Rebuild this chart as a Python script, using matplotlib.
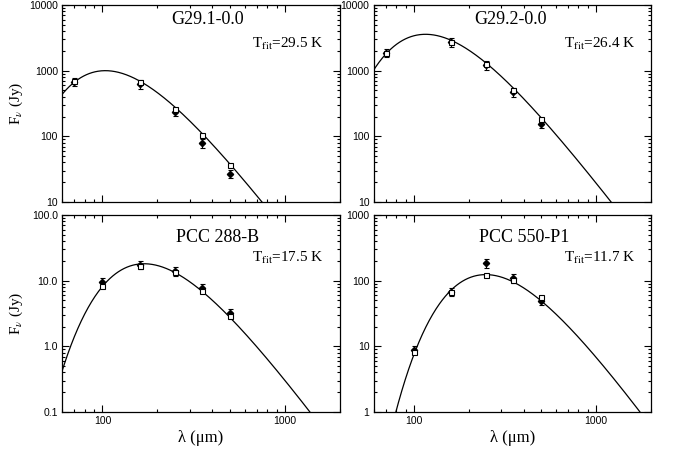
import numpy as np
import matplotlib
matplotlib.use("Agg")
import matplotlib.pyplot as plt
from matplotlib.ticker import LogLocator, FixedFormatter, FixedLocator, NullFormatter

plt.rcParams['mathtext.fontset'] = 'stix'
plt.rcParams['font.family'] = ['Liberation Sans', 'DejaVu Sans']

SERIF = ['Liberation Serif', 'DejaVu Serif']

# Source names and fitted dust temperatures
names = ["G29.1-0.0", "G29.2-0.0", "PCC 288-B", "PCC 550-P1"]
t_fit = [29.5, 26.4, 17.5, 11.7]
beta_fit = [1.75, 1.75, 1.9, 2.0]
peak_flux = [1000.0, 3580.0, 18.1, 123.7]

# Observed wavelengths (micron)
wl_top = [70, 160, 250, 350, 500]
wl_bot = [100, 160, 250, 350, 500]

# Photometry set 1 (diamonds with error bars), Jy
flux_a_g291 = [680, 627, 237, 79, 27]
flux_a_g292 = [1880, 2700, 1220, 468, 156]
flux_a_p288 = [9.66, 17.5, 13.9, 7.8, 3.22]
flux_a_p550 = [8.9, 68, 186, 108, 49.6]
# Photometry set 2 (open squares), Jy
flux_b_g291 = [690, 665, 261, 103.6, 36.6]
flux_b_g292 = [1850, 2760, 1250, 508, 186]
flux_b_p288 = [8.3, 16.9, 13.4, 7.04, 2.93]
flux_b_p550 = [8.1, 66.6, 122, 102, 55.7]
rel_err = 0.15

ylims = [(10, 1e4), (10, 1e4), (0.1, 100), (1, 1000)]
ytick_vals = [[10, 100, 1000, 10000], [10, 100, 1000, 10000],
              [0.1, 1, 10, 100], [1, 10, 100, 1000]]
ytick_labels = [["10", "100", "1000", "10000"], ["10", "100", "1000", "10000"],
                ["0.1", "1.0", "10.0", "100.0"], ["1", "10", "100", "1000"]]

wls = [wl_top, wl_top, wl_bot, wl_bot]
fa = [flux_a_g291, flux_a_g292, flux_a_p288, flux_a_p550]
fb = [flux_b_g291, flux_b_g292, flux_b_p288, flux_b_p550]

HC_K = 14387.77  # hc/k in micron K


def greybody(lam, T, beta):
    x = HC_K / (lam * T)
    return lam ** (-(3.0 + beta)) / np.expm1(x)


fig = plt.figure(figsize=(6.74, 4.55), dpi=100)
W, H = 674.0, 455.0
boxes = [(62, 5, 340, 202), (373.5, 5, 651, 202),
         (62, 215, 340, 412), (373.5, 215, 651, 412)]
title_pos = [(0.525, 0.924), (0.494, 0.924), (0.561, 0.885), (0.542, 0.885)]
tfit_pos = [(0.94, 0.80), (0.945, 0.80), (0.94, 0.78), (0.945, 0.78)]

lam_grid = np.logspace(np.log10(40), np.log10(3000), 600)

for i in range(4):
    l, t, r, b = boxes[i]
    ax = fig.add_axes([l / W, 1 - b / H, (r - l) / W, (b - t) / H])
    ax.set_xscale('log')
    ax.set_yscale('log')
    ax.set_xlim(60, 2000)
    ax.set_ylim(*ylims[i])

    model = greybody(lam_grid, t_fit[i], beta_fit[i])
    model = model / model.max() * peak_flux[i]
    ax.plot(lam_grid, model, color='black', lw=0.9)

    wl = np.array(wls[i], dtype=float)
    a = np.array(fa[i])
    ax.errorbar(wl, a, yerr=rel_err * a, fmt='D', ms=3.2, mfc='black',
                mec='black', ecolor='black', elinewidth=0.8, capsize=1.8,
                capthick=0.8, zorder=3)
    ax.plot(wl, fb[i], 's', ms=3.6, mfc='white', mec='black', mew=0.8,
            zorder=4)

    ax.yaxis.set_major_locator(FixedLocator(ytick_vals[i]))
    ax.yaxis.set_major_formatter(FixedFormatter(ytick_labels[i]))
    ax.yaxis.set_minor_locator(LogLocator(base=10, subs=np.arange(2, 10)))
    ax.yaxis.set_minor_formatter(NullFormatter())
    ax.xaxis.set_major_locator(FixedLocator([100, 1000]))
    ax.xaxis.set_minor_locator(LogLocator(base=10, subs=np.arange(2, 10)))
    ax.xaxis.set_minor_formatter(NullFormatter())
    if i < 2:
        ax.xaxis.set_major_formatter(NullFormatter())
    else:
        ax.xaxis.set_major_formatter(FixedFormatter(["100", "1000"]))

    ax.tick_params(which='both', direction='in', top=True, right=True,
                   labelsize=7.5, width=0.8, pad=3)
    ax.tick_params(which='major', length=5)
    ax.tick_params(which='minor', length=2.5)
    for sp in ax.spines.values():
        sp.set_linewidth(0.9)

    ax.text(title_pos[i][0], title_pos[i][1], names[i], transform=ax.transAxes,
            ha='center', va='center', fontsize=13, family=SERIF)
    ax.text(tfit_pos[i][0], tfit_pos[i][1],
            r"T$_{\rm fit}$=%.1f K" % t_fit[i], transform=ax.transAxes,
            ha='right', va='center', fontsize=11, family=SERIF)

    if i % 2 == 0:
        ax.set_ylabel(r"F$_\nu$ (Jy)", fontsize=11, family=SERIF)
        ax.yaxis.set_label_coords(-0.133, 0.5)
    if i >= 2:
        ax.set_xlabel("λ (μm)", fontsize=12, family=SERIF, labelpad=3)

fig.savefig("out.png", dpi=100)
